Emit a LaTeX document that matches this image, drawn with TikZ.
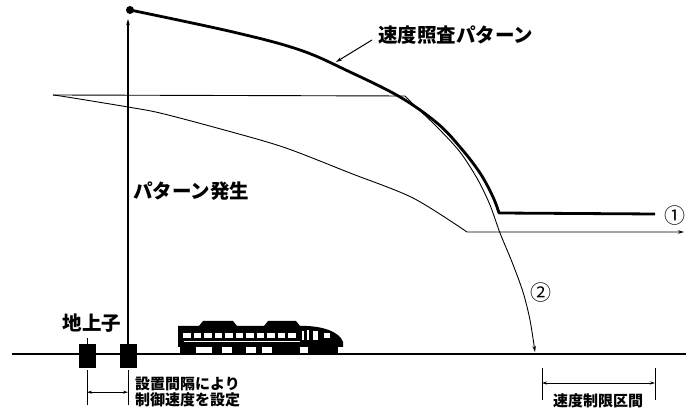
\documentclass[tikz,border=0pt]{standalone}
\usepackage{fontspec}
\newfontfamily\jp{Noto Sans CJK JP}
\usetikzlibrary{arrows.meta}
\begin{document}
\begin{tikzpicture}[x=1pt,y=-1pt,
  thinline/.style={line width=0.9pt},
  thickline/.style={line width=2.8pt, line join=round},
  tip/.style={-{Stealth[length=6pt,width=3.5pt]}},
  dimline/.style={line width=0.8pt, {Stealth[length=5pt,width=3pt]}-{Stealth[length=5pt,width=3pt]}},
  lbl/.style={font=\jp\bfseries\fontsize{19.5}{19.5}\selectfont, inner sep=0pt},
  smalllbl/.style={font=\jp\bfseries\fontsize{15}{15.5}\selectfont, inner sep=0pt, align=left},
  numlbl/.style={font=\jp\fontsize{21}{21}\selectfont, inner sep=0pt},
  beacon/.style={fill=black, minimum width=17pt, minimum height=24pt, inner sep=0pt}
]
\useasboundingbox (0,0) rectangle (686,411);
\fill[white] (0,0) rectangle (686,411);

% ground line
\draw[line width=2pt] (12,354) -- (686,354);

% train silhouette
\begin{scope}
  \fill (178,326) -- (298,326) .. controls (322,325) and (340,332) .. (343,342) -- (343,347) -- (178,347) -- cycle;
  \fill (203,321) -- (233,321) -- (237,326) -- (199,326) -- cycle;
  \fill (268,321) -- (296,321) -- (300,326) -- (264,326) -- cycle;
  \foreach \i in {0,...,10} \fill[white] ({183+\i*10.5},333) rectangle ++(7.5,5);
  \fill[white] (302,331) rectangle (304,340);
  \fill[white] (307,330) rectangle (309,340);
  \fill[white] (313,331) rectangle (318,340);
  \fill[white] (324,333) rectangle (330,338);
  \fill[white] (184,341.5) rectangle (300,342.3);
  \foreach \a/\b in {180/196, 212/222, 232/246, 256/262, 272/300, 308/338}
    \fill (\a,346) rectangle (\b,353);
\end{scope}

% ground beacons
\node[beacon] (b1) at (87,356) {};
\node[beacon] (b2) at (128,356) {};
\draw[thinline] (b1.north) -- ++(0,-6);

% pattern origin and vertical axis
\node[circle, fill, inner sep=0pt, minimum size=8pt] (origin) at (130,10) {};
\coordinate (axtop) at (128,19);
\draw[line width=1.3pt, tip] (b2.north) -- (axtop);

% speed check pattern (thick)
\draw[thickline] plot[smooth, tension=0.6] coordinates {(origin.center) (233,32) (300,50) (350,72) (400,97) (437,123) (460,147) (480,173) (493,197) (499,213)} -- (655,214);

% braking curve 2
\draw[thinline, tip] (53,95) -- (405,96) -- plot[smooth] coordinates {(414,105) (437,127) (460,152) (478,180) (490,205) (500,233) (512,262) (523,292) (530,320) (535,352)};

% braking curve 1
\draw[thinline, tip] plot[smooth] coordinates {(53,95) (67,97) (128,107) (160,113) (217,128) (283,147) (350,173) (413,198) (467,232)} -- (684,232);

% labels
\node[lbl, anchor=west] (pat) at (378,35) {速度照査パターン};
\coordinate (patpt) at (336,62);
\draw[line width=1pt, tip] ([xshift=-6pt,yshift=-5pt]pat.west) -- (patpt);
\node[lbl, anchor=west] (gen) at (133,191) {パターン発生};
\node[lbl] (chijo) at (92,323) {地上子};
\node[numlbl, anchor=east] (n1) at (686,216) {①};
\node[numlbl] (n2) at (541,293) {②};

% beacon spacing dimension
\coordinate (e1) at ([yshift=-2pt]b1.south);
\coordinate (e2) at ([yshift=-2pt]b2.south);
\draw[thinline] (e1) -- ++(0,35);
\draw[thinline] (e2) -- ++(0,35);
\draw[dimline] ([yshift=-22pt]e1) -- ([yshift=-22pt]e2);
\node[smalllbl, anchor=north west] (spacing) at (135,377) {設置間隔により\\制御速度を設定};

% speed limit section dimension
\coordinate (sL) at (542,368);
\coordinate (sR) at (655,368);
\draw[thinline] (sL) -- ++(0,32);
\draw[thinline] (sR) -- ++(0,32);
\draw[dimline] ([yshift=-15pt]sL) -- ([yshift=-15pt]sR);
\node[smalllbl] (limit) at (598,401) {速度制限区間};
\end{tikzpicture}
\end{document}
